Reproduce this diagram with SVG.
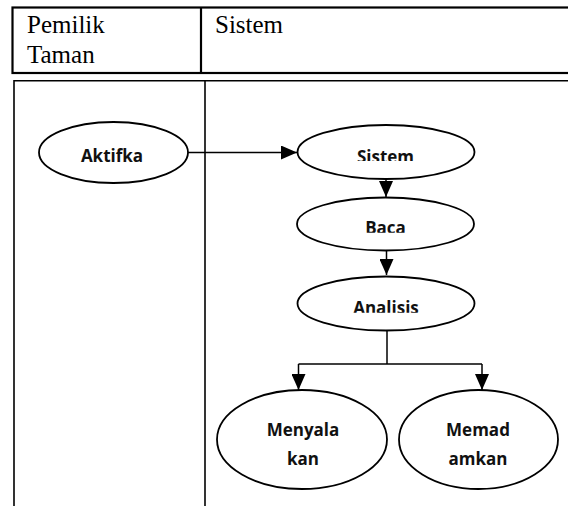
<svg xmlns="http://www.w3.org/2000/svg" width="568" height="506" viewBox="0 0 568 506">
<style>
.tbl{fill:none;stroke:#000;stroke-width:2.2}
.tbl2{fill:none;stroke:#000;stroke-width:1.6}
.hdr{font-family:"Liberation Serif",serif;font-size:25px;fill:#000}
.node ellipse{fill:#fff;stroke:#000;stroke-width:1.8}
.lbl{font-family:"Open Sans",sans-serif;font-weight:bold;font-size:17px;fill:#111;text-anchor:middle}
.conn{fill:none;stroke:#000;stroke-width:1.5}
</style>
<defs>
<marker id="ah" viewBox="0 0 16 14" refX="16" refY="7" markerWidth="16" markerHeight="14" markerUnits="userSpaceOnUse" orient="auto">
<path d="M0,0 L16,7 L0,14 Z" fill="#000"/>
</marker>
<clipPath id="c1"><rect x="300" y="130" width="170" height="31"/></clipPath>
<clipPath id="c2"><rect x="300" y="200" width="170" height="32.7"/></clipPath>
<clipPath id="c3"><rect x="300" y="280" width="170" height="32.7"/></clipPath>
</defs>
<g id="table">
<rect class="tbl" x="12.5" y="7.5" width="570" height="65.5"/>
<line class="tbl" x1="201" y1="7.5" x2="201" y2="73"/>
<text class="hdr" x="27" y="33">Pemilik</text>
<text class="hdr" x="27" y="63">Taman</text>
<text class="hdr" x="215" y="33">Sistem</text>
<path class="tbl2" d="M14,510 V80.8 H580"/>
<line class="tbl2" x1="205" y1="80.8" x2="205" y2="510"/>
</g>
<g id="connectors">
<line class="conn" x1="188" y1="152.5" x2="297" y2="152.5" marker-end="url(#ah)"/>
<line class="conn" x1="386" y1="178" x2="386" y2="197" marker-end="url(#ah)"/>
<line class="conn" x1="386.5" y1="250" x2="386.5" y2="275" marker-end="url(#ah)"/>
<line class="conn" x1="387" y1="330" x2="387" y2="364"/>
<path class="conn" d="M298.5,364 H482"/>
<line class="conn" x1="298.5" y1="364" x2="298.5" y2="390" marker-end="url(#ah)"/>
<line class="conn" x1="482" y1="364" x2="482" y2="390" marker-end="url(#ah)"/>
</g>
<g id="aktifka" class="node">
<ellipse cx="113.5" cy="152.5" rx="74.5" ry="30.5"/>
<text class="lbl" x="112" y="161.5">Aktifka</text>
</g>
<g id="sistem" class="node">
<ellipse cx="386" cy="152" rx="88.5" ry="27"/>
<text class="lbl" x="385.5" y="162.5" clip-path="url(#c1)">Sistem</text>
</g>
<g id="baca" class="node">
<ellipse cx="385.5" cy="224" rx="88.5" ry="26.5"/>
<text class="lbl" x="385.5" y="234" clip-path="url(#c2)">Baca</text>
</g>
<g id="analisis" class="node">
<ellipse cx="386" cy="303.5" rx="88.5" ry="27"/>
<text class="lbl" x="386" y="314" clip-path="url(#c3)">Analisis</text>
</g>
<g id="menyalakan" class="node">
<ellipse cx="302" cy="439.5" rx="85" ry="49.5"/>
<text class="lbl" x="303" y="435.5">Menyala</text>
<text class="lbl" x="303" y="464.5">kan</text>
</g>
<g id="memadamkan" class="node">
<ellipse cx="478.5" cy="439.5" rx="79.5" ry="49.5"/>
<text class="lbl" x="478" y="435.5">Memad</text>
<text class="lbl" x="478" y="464.5">amkan</text>
</g>
</svg>
